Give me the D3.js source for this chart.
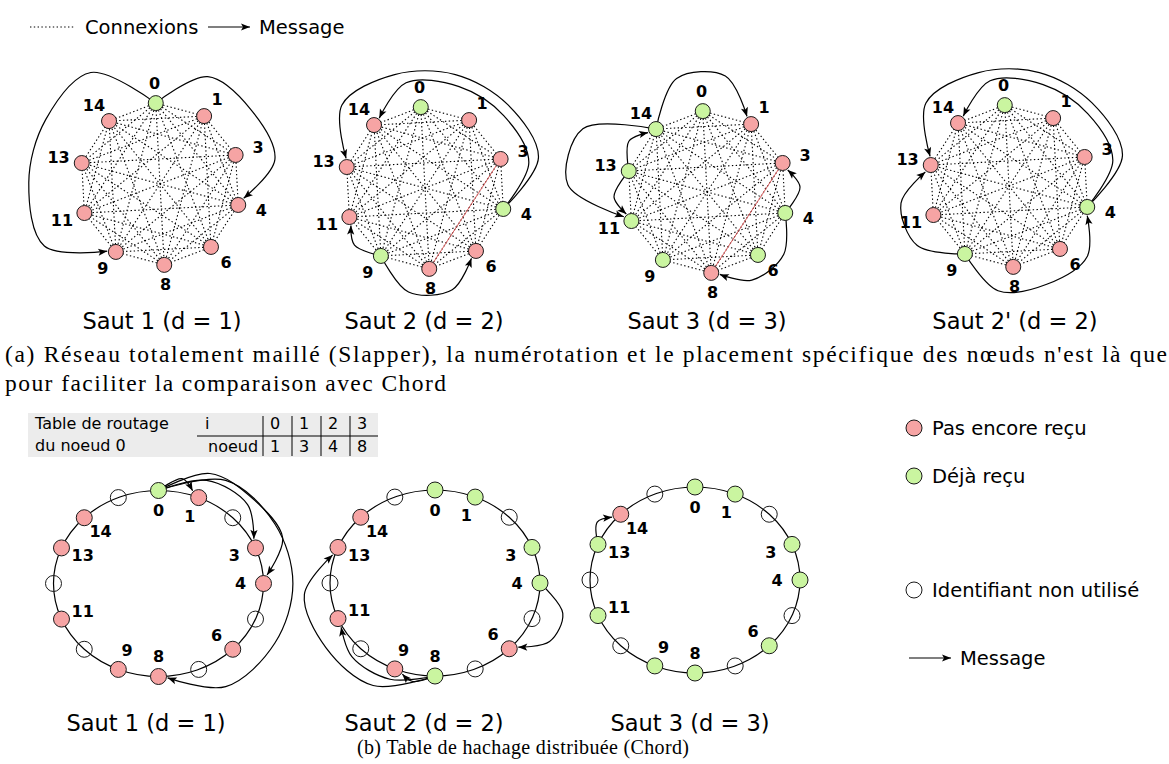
<!DOCTYPE html>
<html><head><meta charset="utf-8">
<script src="https://cdn.jsdelivr.net/npm/d3@7"></script>
<style>body{margin:0;background:#fff}svg{display:block}</style>
</head><body>
<svg id="c" width="1169" height="764"></svg>
<script>
// ---------------- DATA ----------------
const meshNodes = [0, 1, 3, 4, 6, 8, 9, 11, 13, 14];
const meshTitles = ["Saut 1 (d = 1)", "Saut 2 (d = 2)", "Saut 3 (d = 3)", "Saut 2' (d = 2)"];
const meshReceived = [[0], [0, 4, 9], [0, 4, 9, 14, 13, 11, 6], [0, 4, 9]];
const meshMessages = [
  [[0, 4], [0, 9]],
  [[4, 14], [4, 13], [9, 11], [9, 6]],
  [[14, 1], [14, 11], [13, 11], [13, 14], [4, 3], [4, 8]],
  [[4, 14], [4, 13], [9, 13], [9, 4]]
];
const meshHighlight = [[], [[3, 8]], [[3, 8]], []];

const chordSlots = [0, 1, 2, 3, 4, 5, 6, 7, 8, 9, 10, 11, 12, 13, 14, 15];
const chordUsed = [0, 1, 3, 4, 6, 8, 9, 11, 13, 14];
const chordTitles = ["Saut 1 (d = 1)", "Saut 2 (d = 2)", "Saut 3 (d = 3)"];
const chordReceived = [[0], [0, 1, 3, 4, 8], [0, 1, 3, 4, 6, 8, 9, 11, 13]];
const chordMessages = [
  [[0, 1], [0, 3], [0, 4], [0, 8]],
  [[4, 6], [8, 9], [8, 11], [8, 13]],
  [[13, 14]]
];

const tableI = ["0", "1", "2", "3"];
const tableNode = ["1", "3", "4", "8"];

const legendItems = ["Pas encore reçu", "Déjà reçu", "Identifiant non utilisé"];
const captionA1 = "(a) Réseau totalement maillé (Slapper), la numérotation et le placement spécifique des nœuds n'est là que";
const captionA2 = "pour faciliter la comparaison avec Chord";
const captionB = "(b) Table de hachage distribuée (Chord)";

// ---------------- LAYOUT / STYLE ----------------
const RED = "#f6a4a4", GREEN = "#caf5a0", STROKE = "#1a1a1a";
const SANS = "'DejaVu Sans', Verdana, sans-serif";
const SERIF = "'Liberation Serif', 'Times New Roman', serif";
const meshLayout = [{cx:160,cy:184,tx:162},{cx:425,cy:188,tx:424},{cx:707,cy:192,tx:707},{cx:1009,cy:186,tx:1015}];
const meshR = 81, meshRot = -3, meshNodeR = 7.5, meshTie = -1;
const meshBulge = [[1.45,1.62],[1.32,1.45,1.12,1.3],[1.45,1.72,1.15,1.15,1.15,1.22],[1.32,1.45,1.35,1.3]];
const chordLayout = [{cx:158.5,cy:583.5,tx:146},{cx:435,cy:583,tx:424},{cx:695,cy:580,tx:690}];
const chordRx = 105, chordRy = 93, chordNodeR = 8, chordTie = 1;
const chordBulge = [[1.15,1.2,1.28,1.28],[1.26,1.08,1.12,1.25],[1.12]];

const svg = d3.select("#c");
svg.append("rect").attr("width",1169).attr("height",764).attr("fill","#fff");
const defs = svg.append("defs");
defs.append("marker").attr("id","arr").attr("viewBox","-10 -5 12 10")
  .attr("refX",0).attr("refY",0).attr("markerWidth",12).attr("markerHeight",10)
  .attr("markerUnits","userSpaceOnUse").attr("orient","auto")
  .append("path").attr("d","M0,0 L-9,-3.6 L-7,0 L-9,3.6 Z").attr("fill","#000");

function polar(cx, cy, rx, ry, deg, f) {
  const a = deg * Math.PI / 180;
  return [cx + rx * f * Math.sin(a), cy - ry * f * Math.cos(a)];
}
const lineGen = d3.line().curve(d3.curveCatmullRom.alpha(0.5));
function route(cx, cy, rx, ry, a0, a1, f, nodeR, tie) {
  let d = (((a1 - a0) % 360) + 540) % 360 - 180;
  if (Math.abs(Math.abs(d) - 180) < 1e-6) d = 180 * tie;
  const k = Math.max(1, Math.ceil(Math.abs(d) / 40));
  const pts = [polar(cx, cy, rx, ry, a0, 1)];
  for (let j = 1; j <= k; j++) pts.push(polar(cx, cy, rx, ry, a0 + d * j / (k + 1), f));
  const end = polar(cx, cy, rx, ry, a1, 1);
  const prev = pts[pts.length - 1];
  const dx = prev[0] - end[0], dy = prev[1] - end[1], L = Math.hypot(dx, dy);
  pts.push([end[0] + dx / L * (nodeR + 1.2), end[1] + dy / L * (nodeR + 1.2)]);
  return lineGen(pts);
}

// ---------------- TOP LEGEND ----------------
const topLeg = svg.append("g");
topLeg.append("line").attr("x1",30).attr("x2",75).attr("y1",27).attr("y2",27)
  .attr("stroke","#000").attr("stroke-width",1.1).attr("stroke-dasharray","1.4,2.4");
topLeg.append("text").attr("x",85).attr("y",27).attr("dominant-baseline","central")
  .attr("font-family",SANS).attr("font-size",19.5).text("Connexions");
topLeg.append("line").attr("x1",208).attr("x2",250).attr("y1",27).attr("y2",27)
  .attr("stroke","#000").attr("stroke-width",1.2).attr("marker-end","url(#arr)");
topLeg.append("text").attr("x",259).attr("y",27).attr("dominant-baseline","central")
  .attr("font-family",SANS).attr("font-size",19.5).text("Message");

// ---------------- MESH PANELS ----------------
const meshAngle = d3.scalePoint().domain(meshNodes).range([0, 324]);
meshLayout.forEach((L, p) => {
  const g = svg.append("g");
  const ang = n => meshAngle(n) + meshRot;
  const pos = n => polar(L.cx, L.cy, meshR, meshR, ang(n), 1);
  const pairs = [];
  meshNodes.forEach((a, i) => meshNodes.slice(i + 1).forEach(b => pairs.push([a, b])));
  g.selectAll("line.e").data(pairs).join("line").attr("class","e")
    .attr("x1",d=>pos(d[0])[0]).attr("y1",d=>pos(d[0])[1])
    .attr("x2",d=>pos(d[1])[0]).attr("y2",d=>pos(d[1])[1])
    .attr("stroke","#000").attr("stroke-width",1.1).attr("stroke-dasharray","1.4,2.4");
  g.selectAll("line.h").data(meshHighlight[p]).join("line").attr("class","h")
    .attr("x1",d=>pos(d[0])[0]).attr("y1",d=>pos(d[0])[1])
    .attr("x2",d=>pos(d[1])[0]).attr("y2",d=>pos(d[1])[1])
    .attr("stroke","#e06060").attr("stroke-width",1);
  g.selectAll("path.m").data(meshMessages[p]).join("path").attr("class","m")
    .attr("d",(d,i)=>route(L.cx, L.cy, meshR, meshR, ang(d[0]), ang(d[1]), meshBulge[p][i], meshNodeR, meshTie))
    .attr("fill","none").attr("stroke","#000").attr("stroke-width",1.2).attr("marker-end","url(#arr)");
  g.selectAll("circle").data(meshNodes).join("circle")
    .attr("cx",d=>pos(d)[0]).attr("cy",d=>pos(d)[1]).attr("r",meshNodeR)
    .attr("fill",d=>meshReceived[p].includes(d)?GREEN:RED).attr("stroke",STROKE).attr("stroke-width",1);
  g.selectAll("text.l").data(meshNodes).join("text").attr("class","l")
    .attr("x",d=>polar(L.cx, L.cy, meshR + 24, meshR + 20, ang(d), 1)[0])
    .attr("y",d=>polar(L.cx, L.cy, meshR + 24, meshR + 20, ang(d), 1)[1])
    .attr("text-anchor","middle").attr("dominant-baseline","central")
    .attr("font-family",SANS).attr("font-weight","bold").attr("font-size",16).text(d=>d);
  g.append("text").attr("x",L.tx).attr("y",321).attr("text-anchor","middle").attr("dominant-baseline","central")
    .attr("font-family",SANS).attr("font-size",22.5).text(meshTitles[p]);
});

// ---------------- SERIF CAPTIONS ----------------
svg.append("text").attr("x",5).attr("y",362).attr("font-family",SERIF).attr("font-size",23.5)
  .attr("textLength",1162).attr("lengthAdjust","spacing").text(captionA1);
svg.append("text").attr("x",5).attr("y",391).attr("font-family",SERIF).attr("font-size",23.5)
  .attr("textLength",441).attr("lengthAdjust","spacing").text(captionA2);
svg.append("text").attr("x",357).attr("y",754).attr("font-family",SERIF).attr("font-size",20)
  .attr("textLength",332).attr("lengthAdjust","spacing").text(captionB);

// ---------------- ROUTING TABLE ----------------
const tg = svg.append("g");
tg.append("rect").attr("x",28).attr("y",413).attr("width",350).attr("height",44).attr("fill","#ececec");
tg.append("text").attr("x",35).attr("y",423).attr("dominant-baseline","central").attr("font-family",SANS).attr("font-size",16).text("Table de routage");
tg.append("text").attr("x",35).attr("y",445).attr("dominant-baseline","central").attr("font-family",SANS).attr("font-size",16).text("du noeud 0");
tg.append("text").attr("x",205).attr("y",423).attr("dominant-baseline","central").attr("font-family",SANS).attr("font-size",16).text("i");
tg.append("text").attr("x",208).attr("y",446).attr("dominant-baseline","central").attr("font-family",SANS).attr("font-size",16).text("noeud");
tg.append("line").attr("x1",197).attr("x2",378).attr("y1",436).attr("y2",436).attr("stroke","#000").attr("stroke-width",1);
const colX = d3.scaleBand().domain(tableI).range([263, 379]);
tg.selectAll("line.v").data(tableI).join("line").attr("class","v")
  .attr("x1",d=>colX(d)).attr("x2",d=>colX(d)).attr("y1",416).attr("y2",456).attr("stroke","#000").attr("stroke-width",1);
tg.selectAll("text.r1").data(tableI).join("text").attr("class","r1")
  .attr("x",d=>colX(d)+7).attr("y",423).attr("dominant-baseline","central").attr("font-family",SANS).attr("font-size",16).text(d=>d);
tg.selectAll("text.r2").data(tableNode).join("text").attr("class","r2")
  .attr("x",(d,i)=>colX(tableI[i])+7).attr("y",446).attr("dominant-baseline","central").attr("font-family",SANS).attr("font-size",16).text(d=>d);

// ---------------- CHORD PANELS ----------------
const chordAngle = d3.scaleLinear().domain([0, 16]).range([0, 360]);
chordLayout.forEach((L, p) => {
  const g = svg.append("g");
  const pos = s => polar(L.cx, L.cy, chordRx, chordRy, chordAngle(s), 1);
  g.append("ellipse").attr("cx",L.cx).attr("cy",L.cy).attr("rx",chordRx).attr("ry",chordRy)
    .attr("fill","none").attr("stroke","#000").attr("stroke-width",1.2);
  g.selectAll("path.m").data(chordMessages[p]).join("path").attr("class","m")
    .attr("d",(d,i)=>route(L.cx, L.cy, chordRx, chordRy, chordAngle(d[0]), chordAngle(d[1]), chordBulge[p][i], chordNodeR, chordTie))
    .attr("fill","none").attr("stroke","#000").attr("stroke-width",1.2).attr("marker-end","url(#arr)");
  const unused = chordSlots.filter(s => !chordUsed.includes(s));
  g.selectAll("circle.u").data(unused).join("circle").attr("class","u")
    .attr("cx",d=>pos(d)[0]).attr("cy",d=>pos(d)[1]).attr("r",chordNodeR)
    .attr("fill","none").attr("stroke",STROKE).attr("stroke-width",1);
  g.selectAll("circle.n").data(chordUsed).join("circle").attr("class","n")
    .attr("cx",d=>pos(d)[0]).attr("cy",d=>pos(d)[1]).attr("r",chordNodeR)
    .attr("fill",d=>chordReceived[p].includes(d)?GREEN:RED).attr("stroke",STROKE).attr("stroke-width",1);
  g.selectAll("text.l").data(chordUsed).join("text").attr("class","l")
    .attr("x",d=>polar(L.cx, L.cy, chordRx - 23, chordRy - 20, chordAngle(d), 1)[0])
    .attr("y",d=>polar(L.cx, L.cy, chordRx - 23, chordRy - 20, chordAngle(d), 1)[1])
    .attr("text-anchor","middle").attr("dominant-baseline","central")
    .attr("font-family",SANS).attr("font-weight","bold").attr("font-size",16).text(d=>d);
  g.append("text").attr("x",L.tx).attr("y",723).attr("text-anchor","middle").attr("dominant-baseline","central")
    .attr("font-family",SANS).attr("font-size",22.5).text(chordTitles[p]);
});

// ---------------- RIGHT LEGEND ----------------
const lg = svg.append("g");
const legFill = [RED, GREEN, "#fff"];
const legY = [428, 476, 590];
legendItems.forEach((t, i) => {
  lg.append("circle").attr("cx",914).attr("cy",legY[i]).attr("r",8).attr("fill",legFill[i]).attr("stroke",STROKE).attr("stroke-width",1);
  lg.append("text").attr("x",932).attr("y",legY[i]).attr("dominant-baseline","central")
    .attr("font-family",SANS).attr("font-size",19.5).text(t);
});
lg.append("line").attr("x1",909).attr("x2",951).attr("y1",658).attr("y2",658)
  .attr("stroke","#000").attr("stroke-width",1.2).attr("marker-end","url(#arr)");
lg.append("text").attr("x",960).attr("y",658).attr("dominant-baseline","central")
  .attr("font-family",SANS).attr("font-size",19.5).text("Message");
</script>
</body></html>
